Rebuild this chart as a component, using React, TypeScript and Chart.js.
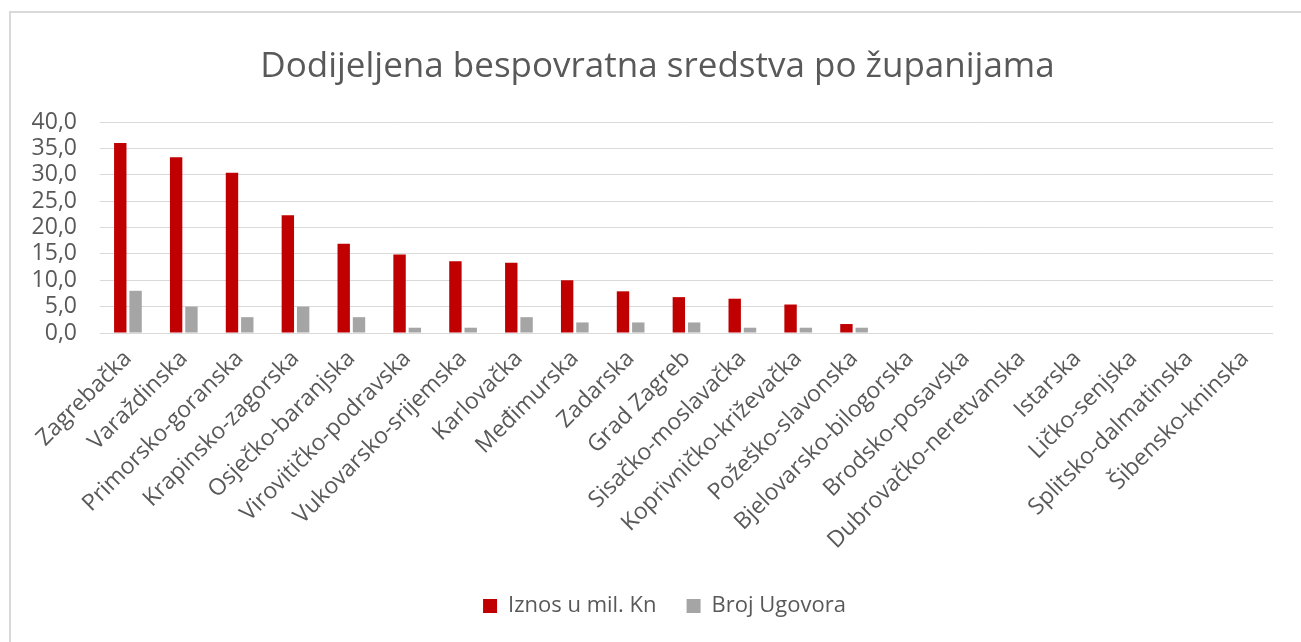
import React, { useEffect, useRef } from "react";
import { Chart, registerables } from "chart.js";

Chart.register(...registerables);

const categories = [
  "Zagrebačka",
  "Varaždinska",
  "Primorsko-goranska",
  "Krapinsko-zagorska",
  "Osječko-baranjska",
  "Virovitičko-podravska",
  "Vukovarsko-srijemska",
  "Karlovačka",
  "Međimurska",
  "Zadarska",
  "Grad Zagreb",
  "Sisačko-moslavačka",
  "Koprivničko-križevačka",
  "Požeško-slavonska",
  "Bjelovarsko-bilogorska",
  "Brodsko-posavska",
  "Dubrovačko-neretvanska",
  "Istarska",
  "Ličko-senjska",
  "Splitsko-dalmatinska",
  "Šibensko-kninska",
];

const iznos = [36.0, 33.3, 30.4, 22.3, 16.9, 14.9, 13.6, 13.3, 10.0, 7.9, 6.8, 6.5, 5.4, 1.7, 0, 0, 0, 0, 0, 0, 0];
const brojUgovora = [8, 5, 3, 5, 3, 1, 1, 3, 2, 2, 2, 1, 1, 1, 0, 0, 0, 0, 0, 0, 0];

const seriesNames = ["Iznos u mil. Kn", "Broj Ugovora"];
const chartTitle = "Dodijeljena bespovratna sredstva po županijama";

const FONT = "'Open Sans', sans-serif";
const TEXT = "#595959";

const framePlugin = {
  id: "frame",
  beforeDraw(chart: any) {
    const ctx = chart.ctx;
    ctx.save();
    ctx.fillStyle = "#ffffff";
    ctx.fillRect(0, 0, chart.width, chart.height);
    ctx.strokeStyle = "#d9d9d9";
    ctx.lineWidth = 2;
    ctx.strokeRect(10, 12, chart.width + 20, chart.height + 20);
    ctx.restore();
  },
};

// centre title and legend on the framed chart object rather than the plot
const shiftPlugin = {
  id: "shiftBoxes",
  afterLayout(chart: any) {
    const t = chart.titleBlock;
    if (t) {
      t.left += 21;
      t.right += 21;
    }
    const l = chart.legend;
    if (l) {
      l.left += 28;
      l.right += 28;
    }
  },
};

export default function App() {
  const ref = useRef<HTMLCanvasElement>(null);

  useEffect(() => {
    if (!ref.current) return;
    const chart = new Chart(ref.current, {
      type: "bar",
      data: {
        labels: categories,
        datasets: [
          {
            label: seriesNames[0],
            data: iznos,
            backgroundColor: "#c00000",
            barPercentage: 0.81,
            categoryPercentage: 0.548,
          },
          {
            label: seriesNames[1],
            data: brojUgovora,
            backgroundColor: "#a5a5a5",
            barPercentage: 0.81,
            categoryPercentage: 0.548,
          },
        ],
      },
      options: {
        animation: false,
        responsive: false,
        maintainAspectRatio: false,
        events: [],
        layout: { padding: { left: 0, right: 28, top: 0, bottom: 15 } },
        plugins: {
          title: {
            display: true,
            text: chartTitle,
            color: TEXT,
            font: { family: FONT, size: 35, weight: "normal" },
            padding: { top: 46, bottom: 34 },
          },
          legend: {
            display: true,
            position: "bottom",
            labels: {
              color: TEXT,
              font: { family: FONT, size: 22 },
              boxWidth: 14,
              boxHeight: 14,
              padding: 30,
            },
          },
          tooltip: { enabled: false },
        },
        scales: {
          x: {
            grid: { display: false },
            border: { display: false },
            ticks: {
              color: TEXT,
              font: { family: FONT, size: 23 },
              minRotation: 45,
              maxRotation: 45,
              autoSkip: false,
              padding: 4,
            },
            afterFit(scale: any) {
              scale.height = 232;
            },
          },
          y: {
            min: 0,
            max: 40,
            grid: { color: "#d9d9d9", lineWidth: 1, drawTicks: false },
            border: { display: false },
            ticks: {
              stepSize: 5,
              autoSkip: false,
              color: TEXT,
              font: { family: FONT, size: 23 },
              padding: 23,
              callback: (v: any) => Number(v).toFixed(1).replace(".", ","),
            },
            afterFit(scale: any) {
              scale.width = 100;
            },
          },
        },
      },
      plugins: [framePlugin, shiftPlugin],
    });
    return () => chart.destroy();
  }, []);

  return (
    <div style={{ position: "fixed", left: 0, top: 0, width: 1301, height: 642 }}>
      <canvas ref={ref} width={1301} height={642} style={{ display: "block" }} />
    </div>
  );
}
